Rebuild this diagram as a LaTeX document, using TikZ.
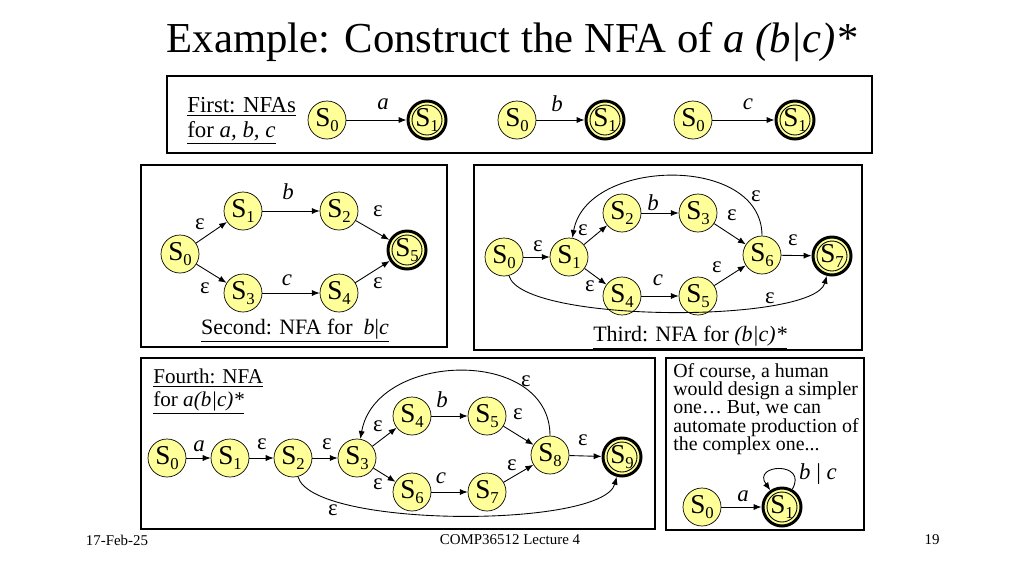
\documentclass[tikz,border=0pt]{standalone}
\usepackage{fontspec}
\setmainfont{Liberation Serif}
\usetikzlibrary{arrows.meta}
\definecolor{nfayellow}{RGB}{255,255,153}
\newcommand{\stname}[1]{S\raisebox{-0.35ex}{\fontsize{9.5}{9.5}\selectfont #1}}
\newcommand{\eps}{ε}
\tikzset{
nstate/.style={circle,draw=black,fill=nfayellow,minimum size=0.76cm,inner sep=0pt,font=\fontsize{15.5}{15.5}\selectfont},
accept/.style={nstate,line width=1.7pt,path picture={\draw[line width=0.5pt] (path picture bounding box.center) circle (0.3cm);}},
trans/.style={-{Latex[length=4.5pt,width=3.5pt]},line width=0.5pt},
lab/.style={inner sep=0pt,font=\fontsize{13}{13}\selectfont},
panel/.style={draw=black,line width=1.1pt},
caption/.style={inner sep=0pt,font=\fontsize{12.5}{15}\selectfont},
footer/.style={inner sep=0pt,font=\fontsize{8.5}{10}\selectfont},
}

\begin{document}
\begin{tikzpicture}[x=0.02cm,y=0.02cm]
\useasboundingbox (0,0) rectangle (1024,-576);
\node (title) at (512,-42) {\fontsize{24.3}{28}\selectfont Example: Construct the NFA of \textit{a (b|c)*}};

\draw[panel] (167,-76) rectangle (872,-153);
\node[caption,anchor=west,font=\fontsize{13}{15}\selectfont] (first) at (187,-107) {\underline{First: NFAs}};
\node[caption,anchor=west,font=\fontsize{13}{15}\selectfont] (firstb) at (187,-133) {\underline{for \textit{a, b, c}}};
\node[nstate] (a0) at (327,-120) {\stname{0}};
\node[accept] (a1) at (427,-120) {\stname{1}};
\node[nstate] (b0) at (517,-120) {\stname{0}};
\node[accept] (b1) at (605,-120) {\stname{1}};
\node[nstate] (c0) at (693,-120) {\stname{0}};
\node[accept] (c1) at (795,-120) {\stname{1}};
\draw[trans] (a0) -- (a1);
\draw[trans] (b0) -- (b1);
\draw[trans] (c0) -- (c1);
\node[lab] (la) at (383,-104) {\textit{a}};
\node[lab] (lb) at (557,-104) {\textit{b}};
\node[lab] (lc) at (748,-104) {\textit{c}};

\draw[panel] (141,-165) rectangle (447,-347);
\node[nstate] (p0) at (180,-254) {\stname{0}};
\node[nstate] (p1) at (243,-211) {\stname{1}};
\node[nstate] (p2) at (339,-211) {\stname{2}};
\node[nstate] (p3) at (243,-293) {\stname{3}};
\node[nstate] (p4) at (339,-293) {\stname{4}};
\node[accept] (p5) at (407,-250) {\stname{5}};
\draw[trans] (p0) -- (p1);
\draw[trans] (p0) -- (p3);
\draw[trans] (p1) -- (p2);
\draw[trans] (p3) -- (p4);
\draw[trans] (p2) -- (p5);
\draw[trans] (p4) -- (p5);
\node[lab] (lp01) at (200,-224) {\eps};
\node[lab] (lp03) at (205,-288) {\eps};
\node[lab] (lp12) at (288,-192) {\textit{b}};
\node[lab] (lp34) at (287,-280) {\textit{c}};
\node[lab] (lp25) at (378,-211) {\eps};
\node[lab] (lp45) at (378,-283) {\eps};
\node[caption] (second) at (295,-331) {\underline{Second: NFA for~~\textit{b}|\textit{c}}};

\draw[panel] (474,-165) rectangle (862,-350);
\node[nstate] (t0) at (504,-257) {\stname{0}};
\node[nstate] (t1) at (569,-257) {\stname{1}};
\node[nstate] (t2) at (622,-213) {\stname{2}};
\node[nstate] (t3) at (698,-213) {\stname{3}};
\node[nstate] (t4) at (622,-296) {\stname{4}};
\node[nstate] (t5) at (698,-296) {\stname{5}};
\node[nstate] (t6) at (762,-255) {\stname{6}};
\node[accept] (t7) at (832,-256) {\stname{7}};
\draw[trans] (t0) -- (t1);
\draw[trans] (t1) -- (t2);
\draw[trans] (t1) -- (t4);
\draw[trans] (t2) -- (t3);
\draw[trans] (t4) -- (t5);
\draw[trans] (t3) -- (t6);
\draw[trans] (t5) -- (t6);
\draw[trans] (t6) -- (t7);
\draw[trans] (t6) to[out=90,in=80,looseness=1.1] (t1);
\draw[trans] (t0) to[out=-75,in=-105,looseness=0.4] (t7);
\node[lab] (lt01) at (538,-246) {\eps};
\node[lab] (lt12) at (583,-230) {\eps};
\node[lab] (lt14) at (590,-286) {\eps};
\node[lab] (lt23) at (653,-203) {\textit{b}};
\node[lab] (lt45) at (658,-280) {\textit{c}};
\node[lab] (lt36) at (732,-215) {\eps};
\node[lab] (lt56) at (717,-267) {\eps};
\node[lab] (lt61) at (756,-196) {\eps};
\node[lab] (lt67) at (793,-240) {\eps};
\node[lab] (lt07) at (770,-298) {\eps};
\node[caption] (third) at (690,-338) {\underline{Third: NFA for \textit{(b|c)*}}};

\draw[panel] (141,-358) rectangle (655,-529);
\node[caption,anchor=west,font=\fontsize{12}{15}\selectfont] (fourth) at (153,-378) {\underline{Fourth: NFA}};
\node[caption,anchor=west,font=\fontsize{12}{15}\selectfont] (fourthb) at (153,-403) {\underline{for \textit{a(b|c)*}}};
\node[nstate] (q0) at (167,-458) {\stname{0}};
\node[nstate] (q1) at (230,-458) {\stname{1}};
\node[nstate] (q2) at (293,-458) {\stname{2}};
\node[nstate] (q3) at (357,-458) {\stname{3}};
\node[nstate] (q4) at (412,-416) {\stname{4}};
\node[nstate] (q5) at (487,-416) {\stname{5}};
\node[nstate] (q6) at (412,-492) {\stname{6}};
\node[nstate] (q7) at (487,-492) {\stname{7}};
\node[nstate] (q8) at (550,-455) {\stname{8}};
\node[accept] (q9) at (622,-457) {\stname{9}};
\draw[trans] (q0) -- (q1);
\draw[trans] (q1) -- (q2);
\draw[trans] (q2) -- (q3);
\draw[trans] (q3) -- (q4);
\draw[trans] (q3) -- (q6);
\draw[trans] (q4) -- (q5);
\draw[trans] (q6) -- (q7);
\draw[trans] (q5) -- (q8);
\draw[trans] (q7) -- (q8);
\draw[trans] (q8) -- (q9);
\draw[trans] (q8) to[out=90,in=80,looseness=1.2] (q3);
\draw[trans] (q2) to[out=-75,in=-105,looseness=0.43] (q9);
\node[lab] (lq01) at (199,-446) {\textit{a}};
\node[lab] (lq12) at (262,-444) {\eps};
\node[lab] (lq23) at (327,-444) {\eps};
\node[lab] (lq34) at (378,-426) {\eps};
\node[lab] (lq36) at (378,-484) {\eps};
\node[lab] (lq45) at (442,-400) {\textit{b}};
\node[lab] (lq67) at (441,-478) {\textit{c}};
\node[lab] (lq58) at (518,-414) {\eps};
\node[lab] (lq78) at (512,-465) {\eps};
\node[lab] (lq83) at (526,-381) {\eps};
\node[lab] (lq89) at (583,-440) {\eps};
\node[lab] (lq29) at (333,-510) {\eps};

\draw[panel] (666,-358) rectangle (864,-530);
\node[anchor=north west,align=left,inner sep=0pt,font=\fontsize{11.3}{10.4}\selectfont] (remark) at (673,-363) {Of course, a human\\would design a simpler\\one… But, we can\\automate production of\\the complex one...};
\node[nstate] (f0) at (702,-507) {\stname{0}};
\node[accept] (f1) at (782,-507) {\stname{1}};
\draw[trans] (f0) -- (f1);
\draw[trans] (f1) to[out=60,in=125,looseness=1,min distance=0.65cm] (f1);
\node[lab] (lf01) at (743,-496) {\textit{a}};
\node[lab] (lf11) at (818,-474) {\textit{b} | \textit{c}};

\node[footer] (date) at (117,-540) {17-Feb-25};
\node[footer] (course) at (510,-540) {COMP36512 Lecture 4};
\node[footer] (page) at (932,-540) {19};
\end{tikzpicture}
\end{document}
